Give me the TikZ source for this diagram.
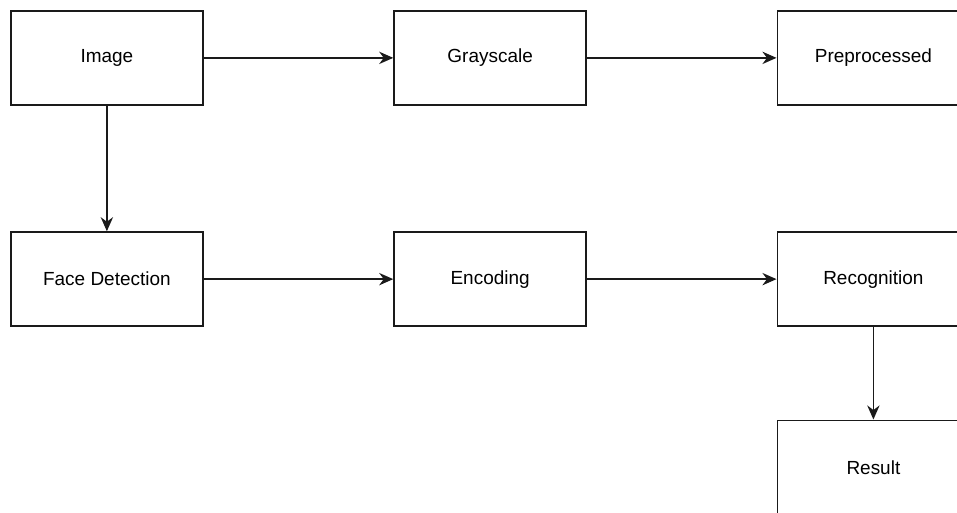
\documentclass[tikz,border=0pt]{standalone}
\usepackage{fontspec}
\setmainfont{Liberation Sans}
\usepackage{xcolor}
\definecolor{cLine}{HTML}{1A1A1A}
\usepackage{tikz}
\usetikzlibrary{arrows.meta, positioning}
\tikzset{
  blk/.style = {rectangle, draw=cLine, line width=1pt, fill=white,
                minimum width=3.84cm, minimum height=1.88cm,
                align=center, font=\fontsize{10.8}{12}\selectfont},
  arr/.style = {-{Stealth[length=8pt, width=7pt]}, line width=1pt, draw=cLine},
}
\begin{document}
\begin{tikzpicture}[node distance=2.51cm and 3.79cm]

  \node[blk] (img) {Image};
  \useasboundingbox[clip] ([shift={(-0.2cm,0.2cm)}]img.north west) rectangle ++(19.14cm,-10.26cm);
  \node[blk, right=of img]  (gray) {Grayscale};
  \node[blk, right=of gray] (pre)  {Preprocessed};
  \node[blk, below=of img]  (face) {Face Detection};
  \node[blk, right=of face] (enc)  {Encoding};
  \node[blk, right=of enc]  (rec)  {Recognition};
  \node[blk, below=1.85cm of rec] (res) {Result};

  \draw[arr] (img)--(gray);
  \draw[arr] (gray)--(pre);
  \draw[arr] (img)--(face);
  \draw[arr] (face)--(enc);
  \draw[arr] (enc)--(rec);
  \draw[arr] (rec)--(res);

\end{tikzpicture}
\end{document}
